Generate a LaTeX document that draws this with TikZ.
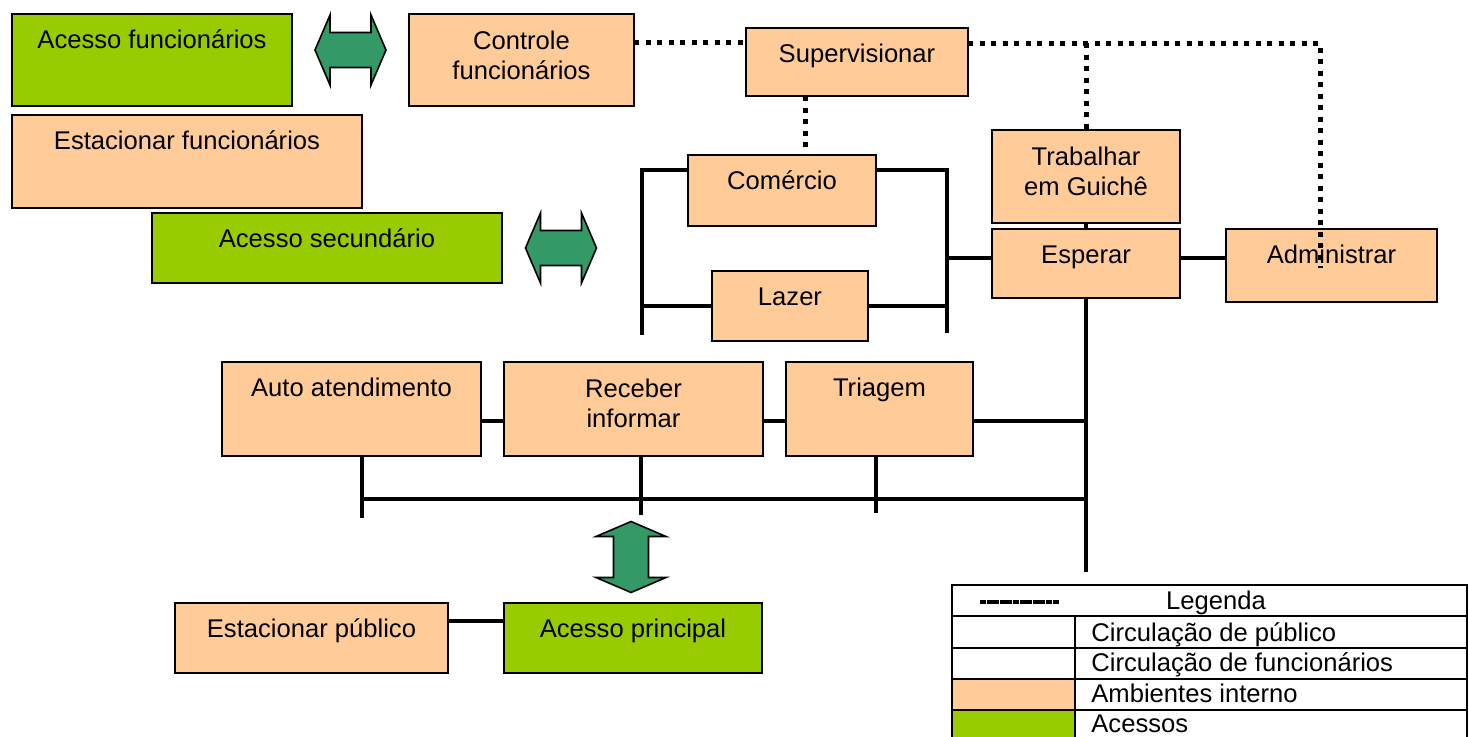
\documentclass[tikz,border=0pt]{standalone}
\usepackage{fontspec}
\setmainfont{Liberation Sans}
\usepackage{tikz}

\definecolor{pessego}{HTML}{FFCC99}
\definecolor{verdeacc}{HTML}{99CC00}
\definecolor{verdeseta}{HTML}{339966}

\begin{document}
\begin{tikzpicture}[
    x=0.5pt, y=-0.5pt,
    font=\fontsize{12.8}{15}\selectfont,
    txt/.style={anchor=north, yshift=-7pt, inner sep=0pt, align=center,
        execute at begin node=\rule{0pt}{10pt}},
    blk/.style={draw, line width=0.8pt, outer sep=0pt, inner sep=0pt, label={[txt]north:#1}},
    blkdois/.style={draw, line width=0.8pt, outer sep=0pt, inner sep=0pt, label={[txt, yshift=-1.5pt]north:#1}},
    amb/.style={blk={#1}, fill=pessego},
    ambdois/.style={blkdois={#1}, fill=pessego},
    acesso/.style={blk={#1}, fill=verdeacc},
    sz/.style 2 args={minimum width=#1*0.5pt, minimum height=#2*0.5pt},
    seta/.style={draw, line width=0.8pt, fill=verdeseta, line join=miter},
    pub/.style={line width=2.4pt},
    func/.style={line width=2.5pt, dash pattern=on 2.5pt off 3.25pt},
    grade/.style={line width=1.2pt},
]
\path[use as bounding box, clip] (0,0) rectangle (1469,736);

% acessos e ambientes
\node[acesso={Acesso funcionários},     sz={280}{92}] (accF) at (152,60)    {};
\node[amb={Estacionar funcionários},    sz={350}{93}] (estF) at (187,161.5) {};
\node[acesso={Acesso secundário},       sz={350}{70}] (accS) at (327,248)   {};
\node[ambdois={Controle\\funcionários}, sz={225}{92}] (ctrl) at (521.5,60)  {};
\node[amb={Supervisionar},              sz={222}{68}] (sup)  at (857,62)    {};
\node[amb={Comércio},                   sz={188}{71}] (com)  at (782,190.5) {};
\node[amb={Lazer},                      sz={156}{70}] (laz)  at (790,306)   {};
\node[ambdois={Trabalhar\\em Guichê},   sz={188}{93}] (trab) at (1086,176.5){};
\node[amb={Esperar},                    sz={188}{69}] (esp)  at (1086,263.5){};
\node[amb={Administrar},                sz={211}{73}] (adm)  at (1331.5,265.5){};
\node[amb={Auto atendimento},           sz={259}{94}] (auto) at (351.5,409) {};
\node[ambdois={Receber\\informar},      sz={259}{94}] (rec)  at (633.5,409) {};
\node[amb={Triagem},                    sz={187}{94}] (tri)  at (879.5,409) {};
\node[amb={Estacionar público},         sz={273}{70}] (estP) at (311.5,638) {};
\node[acesso={Acesso principal},        sz={258}{70}] (accP) at (633,638)   {};

% setas de acesso (duas pontas)
\foreach \cx/\cy/\r in {350.5/50/0, 561/248/0, 631/557/90}
    \draw[seta, shift={(\cx,\cy)}, rotate=\r]
        (-35.5,0) -- (-20.5,-35) -- (-20.5,-17.5) -- (20.5,-17.5) -- (20.5,-35)
        -- (35.5,0) -- (20.5,35) -- (20.5,17.5) -- (-20.5,17.5) -- (-20.5,35) -- cycle;

% circulação de funcionários
\coordinate (fT) at (1320,43);
\coordinate (fA) at (1320,268);
\draw[func] ([yshift=9pt]ctrl.east) -- ([yshift=10pt]sup.west);
\draw[func] ([yshift=9.5pt]sup.east) -- (fT) -- (fA);
\draw[func] (trab.north |- fT) -- (trab.north);
\draw[func] ([xshift=-26pt]sup.south) -- ++(0,59);

% circulação de público
\coordinate (qNW) at (642,170);
\coordinate (qNE) at (947,170);
\coordinate (qSW) at (642,335);
\coordinate (qSE) at (947,333);
\coordinate (jQ)  at (947,258);
\draw[pub] (qSW) -- (qNW) -- ([yshift=10.25pt]com.west);
\draw[pub] ([yshift=10.25pt]com.east) -- (qNE) -- (qSE);
\draw[pub] (laz.west -| qSW) -- (laz.west);
\draw[pub] (laz.east) -- (laz.east -| qSE);
\draw[pub] (jQ) -- ([yshift=2.75pt]esp.west);
\draw[pub] ([yshift=2.75pt]esp.east) -- ([yshift=3.75pt]adm.west);
\draw[pub] (trab.south) -- (esp.north);

\coordinate (tronco) at (1086,572);
\coordinate (jT)     at (1086,421);
\coordinate (busL)   at (362,499);
\coordinate (busR)   at (1086,499);
\draw[pub] (esp.south) -- (tronco);
\draw[pub] ([yshift=-6pt]auto.east) -- ([yshift=-6pt]rec.west);
\draw[pub] ([yshift=-6pt]rec.east) -- ([yshift=-6pt]tri.west);
\draw[pub] ([yshift=-6pt]tri.east) -- (jT);
\draw[pub] (busL) -- (busR);
\draw[pub] ([xshift=5.25pt]auto.south) -- ++(0,62);
\draw[pub] ([xshift=3.75pt]rec.south) -- ++(0,59);
\draw[pub] ([xshift=-1.75pt]tri.south) -- ++(0,57);
\draw[pub] ([yshift=8.5pt]estP.east) -- ([yshift=8.5pt]accP.west);

% legenda
\fill[pessego]  (952,679) rectangle (1075,710);
\fill[verdeacc] (952,710) rectangle (1075,745);
\draw[grade] (952,745) -- (952,585) -- (1467,585) -- (1467,745);
\foreach \y in {616,648,679,710}
    \draw[grade] (952,\y) -- (1467,\y);
\draw[grade] (1075,616) -- (1075,745);
\draw[line width=2.2pt, dash pattern=on 3pt off 0.3pt] (980,602) -- (1059,602);
\node[anchor=base, inner sep=0pt] (legT) at (1216,609) {Legenda};
\foreach \y/\t [count=\i] in {641/Circulação de público, 671/Circulação de funcionários,
                              702/Ambientes interno, 732/Acessos}
    \node[anchor=base west, inner sep=0pt] (leg\i) at (1091,\y) {\t};

\end{tikzpicture}
\end{document}
